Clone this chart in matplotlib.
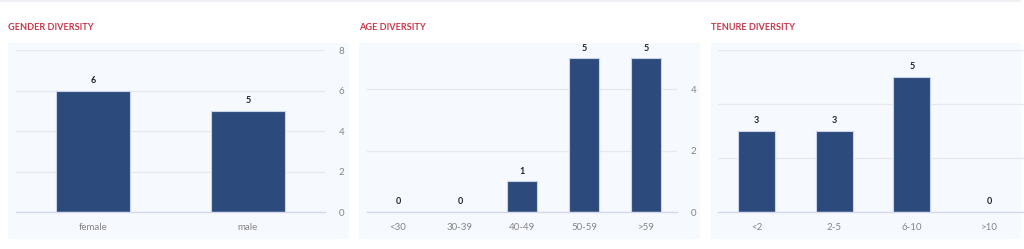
"""
Board diversity - gender / age / tenure bar panels
"""
import matplotlib.pyplot as plt
from matplotlib.patches import Rectangle
from matplotlib.lines import Line2D

plt.rcParams['font.family'] = ['Lato', 'DejaVu Sans']

gender_labels = ['female', 'male']
gender_counts = [6, 5]

age_labels = ['<30', '30-39', '40-49', '50-59', '>59']
age_counts = [0, 0, 1, 5, 5]

tenure_labels = ['<2', '2-5', '6-10', '>10']
tenure_counts = [3, 3, 5, 0]

titles = ['GENDER DIVERSITY', 'AGE DIVERSITY', 'TENURE DIVERSITY']

BAR = '#2c4a7c'
RED = '#c8374b'
GRID = '#e6eaf0'
BG = '#f6f9fe'

W, H = 1024, 249
fig = plt.figure(figsize=(W / 100, H / 100), dpi=100)
fig.patch.set_facecolor('white')


def px_box(x0, y0, x1, y1):
    # pixel box (top-left origin) -> figure fraction [l, b, w, h]
    return [x0 / W, (H - y1) / H, (x1 - x0) / W, (y1 - y0) / H]


# faint line along the top
fig.add_artist(Line2D([0, 1020 / W], [1 - 1 / H, 1 - 1 / H], color='#eceef2',
                      linewidth=1.2, transform=fig.transFigure))

# card backgrounds
for x0, x1 in [(8, 349), (359, 700), (711, 1021)]:
    l, b, w, h = px_box(x0, 43, x1, 239)
    fig.add_artist(Rectangle((l, b), w, h, transform=fig.transFigure,
                             facecolor=BG, edgecolor='none', zorder=0))

# the third card runs past the right edge, so its axis labels are not shown
panels = [
    (gender_labels, gender_counts, (16, 325), 8, [0, 2, 4, 6, 8], 8, titles[0], True),
    (age_labels, age_counts, (367, 677), 5.27, [0, 2, 4], 359, titles[1], True),
    (tenure_labels, tenure_counts, (718, 1028), 6, [0, 2, 4, 6], 711, titles[2], False),
]

for labels, counts, (x0, x1), ymax, yticks, title_x, title, show_y in panels:
    ax = fig.add_axes(px_box(x0, 50, x1, 212))
    ax.patch.set_alpha(0)
    pos = range(len(labels))
    bars = ax.bar(pos, counts, width=0.48, color=BAR, edgecolor='#c9d3ea',
                  linewidth=0.8, zorder=3)
    for rect, v in zip(bars, counts):
        ax.annotate(str(v), (rect.get_x() + rect.get_width() / 2, v),
                    xytext=(0, 4), textcoords='offset points', ha='center',
                    va='bottom', fontsize=6.5, fontweight='bold', color='#222222')
    ax.set_xlim(-0.5, len(labels) - 0.5)
    ax.set_ylim(0, ymax)
    ax.set_xticks(list(pos))
    ax.set_xticklabels(labels)
    ax.set_yticks(yticks)
    ax.yaxis.tick_right()
    ax.tick_params(axis='both', length=0, labelsize=7, labelcolor='#858585')
    ax.tick_params(axis='x', pad=8)
    ax.tick_params(axis='y', pad=10, labelright=show_y)
    ax.grid(axis='y', color=GRID, linewidth=0.9, zorder=0)
    for s in ['top', 'right', 'left']:
        ax.spines[s].set_visible(False)
    ax.spines['bottom'].set_color('#d3daec')
    ax.spines['bottom'].set_linewidth(1.0)
    ax.spines['bottom'].set_zorder(4)
    fig.text(title_x / W, 1 - 28 / H, title, ha='left', va='center',
             fontsize=6.6, fontweight='bold', color=RED)

fig.savefig('out.png', dpi=100, facecolor='white')
